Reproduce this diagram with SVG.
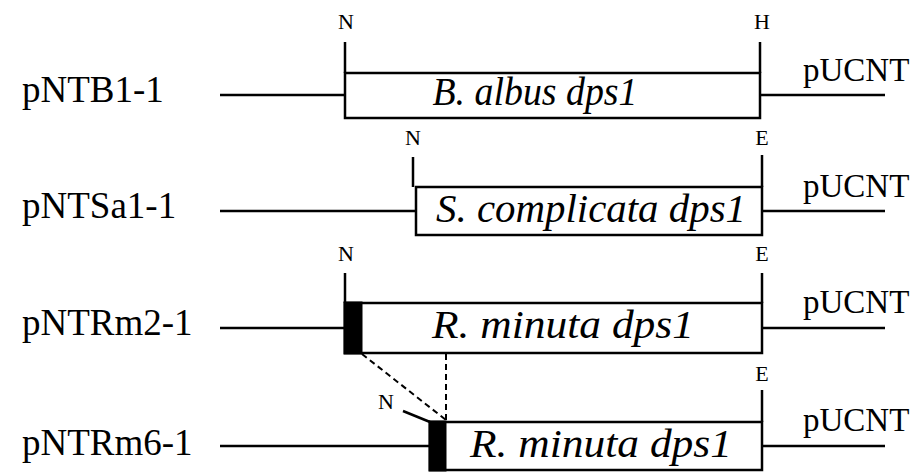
<svg xmlns="http://www.w3.org/2000/svg" width="918" height="472" viewBox="0 0 918 472">
<style>
.ln{stroke:#000;stroke-width:2.5;fill:none}
.box{stroke:#000;stroke-width:2.5;fill:#fff}
.blk{fill:#000;stroke:#000;stroke-width:1}
.dash{stroke:#000;stroke-width:2;stroke-dasharray:6,4;fill:none}
.lab{font-family:"Liberation Serif","Times New Roman",serif;font-size:37px;fill:#000}
.gene{font-family:"Liberation Serif","Times New Roman",serif;font-size:41px;font-style:italic;fill:#000;text-anchor:middle}
.site{font-family:"Liberation Serif","Times New Roman",serif;font-size:22px;fill:#000;text-anchor:middle}
.vec{font-family:"Liberation Serif","Times New Roman",serif;font-size:33px;fill:#000}
</style>
<rect width="918" height="472" fill="#fff"/>
<g id="row1">
<text class="lab" x="22" y="102">pNTB1-1</text>
<line class="ln" x1="220" y1="95" x2="345" y2="95"/>
<line class="ln" x1="760" y1="95" x2="885" y2="95"/>
<rect class="box" x="345" y="73" width="415" height="45"/>
<line class="ln" x1="345" y1="42" x2="345" y2="73"/>
<line class="ln" x1="760" y1="42" x2="760" y2="73"/>
<text class="site" x="346" y="29">N</text>
<text class="site" x="762" y="29">H</text>
<text class="gene" x="535" y="105" textLength="205" lengthAdjust="spacingAndGlyphs">B. albus dps1</text>
<text class="vec" x="803" y="81">pUCNT</text>
</g>
<g id="row2">
<text class="lab" x="22" y="218">pNTSa1-1</text>
<line class="ln" x1="220" y1="211" x2="416" y2="211"/>
<line class="ln" x1="762" y1="211" x2="885" y2="211"/>
<rect class="box" x="416" y="187" width="346" height="48"/>
<line class="ln" x1="413" y1="157" x2="413" y2="187"/>
<line class="ln" x1="762" y1="155" x2="762" y2="187"/>
<text class="site" x="413" y="145">N</text>
<text class="site" x="762" y="145">E</text>
<text class="gene" x="591" y="222" textLength="310" lengthAdjust="spacingAndGlyphs">S. complicata dps1</text>
<text class="vec" x="803" y="197">pUCNT</text>
</g>
<g id="row3">
<text class="lab" x="22" y="335">pNTRm2-1</text>
<line class="ln" x1="220" y1="328" x2="345" y2="328"/>
<line class="ln" x1="762" y1="328" x2="885" y2="328"/>
<rect class="box" x="345" y="303" width="417" height="50"/>
<rect class="blk" x="344" y="302" width="18" height="52"/>
<line class="ln" x1="345" y1="273" x2="345" y2="303"/>
<line class="ln" x1="762" y1="273" x2="762" y2="303"/>
<text class="site" x="346" y="261">N</text>
<text class="site" x="762" y="261">E</text>
<text class="gene" x="563" y="338" textLength="262" lengthAdjust="spacingAndGlyphs">R. minuta dps1</text>
<text class="vec" x="803" y="313">pUCNT</text>
</g>
<g id="row4">
<text class="lab" x="22" y="455">pNTRm6-1</text>
<line class="ln" x1="220" y1="446" x2="430" y2="446"/>
<line class="ln" x1="762" y1="446" x2="885" y2="446"/>
<rect class="box" x="430" y="422" width="332" height="48"/>
<rect class="blk" x="429" y="421" width="17" height="50"/>
<line class="ln" x1="403" y1="411" x2="430" y2="422"/>
<line class="ln" x1="762" y1="390" x2="762" y2="422"/>
<text class="site" x="386" y="409">N</text>
<text class="site" x="762" y="381">E</text>
<text class="gene" x="601" y="457" textLength="262" lengthAdjust="spacingAndGlyphs">R. minuta dps1</text>
<text class="vec" x="803" y="431">pUCNT</text>
</g>
<g id="connectors">
<line class="dash" x1="362" y1="354" x2="446" y2="420"/>
<line class="dash" x1="446" y1="354" x2="446" y2="420"/>
</g>
</svg>
